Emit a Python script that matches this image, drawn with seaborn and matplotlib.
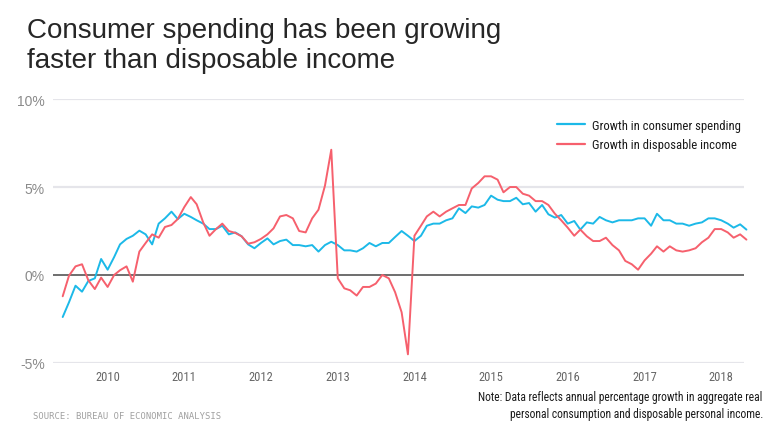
import pandas as pd
import matplotlib
matplotlib.use("Agg")
import matplotlib.pyplot as plt
from matplotlib import font_manager
import seaborn as sns

# Monthly data, June 2009 - May 2018 (annual % growth)
start_month = '2009-06-01'
n_months = 108

spending = [
    -2.39, -1.55, -0.61, -0.95, -0.34, -0.19, 0.91,               # 2009 Jun-Dec
    0.30, 1.02, 1.74, 2.05, 2.23, 2.52, 2.31, 1.74, 2.92, 3.22, 3.60, 3.18,   # 2010
    3.48, 3.30, 3.11, 2.92, 2.61, 2.61, 2.80, 2.31, 2.42, 2.20, 1.74, 1.52,   # 2011
    1.82, 2.08, 1.74, 1.93, 2.01, 1.70, 1.70, 1.63, 1.70, 1.33, 1.70, 1.89,   # 2012
    1.70, 1.40, 1.40, 1.33, 1.52, 1.82, 1.63, 1.82, 1.82, 2.16, 2.50, 2.23,   # 2013
    1.93, 2.23, 2.80, 2.92, 2.92, 3.11, 3.22, 3.79, 3.52, 3.90, 3.83, 3.98,   # 2014
    4.51, 4.28, 4.20, 4.20, 4.39, 4.02, 4.09, 3.60, 3.98, 3.45, 3.26, 3.41,   # 2015
    2.92, 3.07, 2.58, 2.99, 2.92, 3.30, 3.11, 2.99, 3.11, 3.11, 3.11, 3.22,   # 2016
    3.22, 2.80, 3.48, 3.11, 3.11, 2.92, 2.92, 2.80, 2.92, 2.99, 3.22, 3.22,   # 2017
    3.11, 2.92, 2.69, 2.88, 2.58,                                 # 2018 Jan-May
]

income = [
    -1.21, -0.04, 0.49, 0.61, -0.30, -0.80, -0.15,                # 2009 Jun-Dec
    -0.68, 0.00, 0.27, 0.49, -0.38, 1.33, 1.82, 2.31, 2.12, 2.73, 2.84, 3.18,  # 2010
    3.86, 4.43, 4.02, 2.99, 2.23, 2.61, 2.92, 2.50, 2.39, 2.20, 1.78, 1.86,    # 2011
    2.05, 2.31, 2.65, 3.33, 3.41, 3.22, 2.50, 2.42, 3.22, 3.71, 5.08, 7.12,    # 2012
    -0.19, -0.76, -0.87, -1.17, -0.68, -0.68, -0.49, 0.00, -0.19, -0.98, -2.12, -4.51,  # 2013
    2.23, 2.80, 3.33, 3.60, 3.33, 3.60, 3.79, 3.98, 3.98, 4.92, 5.23, 5.61,    # 2014
    5.61, 5.42, 4.70, 5.00, 5.00, 4.62, 4.51, 4.20, 4.20, 3.98, 3.48, 3.11,    # 2015
    2.69, 2.23, 2.58, 2.20, 1.93, 1.93, 2.12, 1.70, 1.40, 0.80, 0.61, 0.30,    # 2016
    0.83, 1.21, 1.63, 1.33, 1.63, 1.40, 1.33, 1.40, 1.52, 1.86, 2.12, 2.61,    # 2017
    2.61, 2.42, 2.12, 2.31, 2.01,                                 # 2018 Jan-May
]

series_names = ['Growth in consumer spending', 'Growth in disposable income']
series_colors = ['#1cb9e8', '#f6606d']
year_ticks = list(range(2010, 2019))
y_ticks = [-5, 0, 5, 10]
y_tick_labels = ['-5%', '0%', '5%', '10%']

title = 'Consumer spending has been growing\nfaster than disposable income'
source = 'SOURCE: BUREAU OF ECONOMIC ANALYSIS'
note = ('Note: Data reflects annual percentage growth in aggregate real\n'
        'personal consumption and disposable personal income.')


def pick_font(candidates):
    installed = {f.name for f in font_manager.fontManager.ttflist}
    for c in candidates:
        if c in installed:
            return c
    return 'DejaVu Sans'


def create_plot():
    dates = pd.date_range(start_month, periods=n_months, freq='MS')
    df = pd.concat([
        pd.DataFrame({'Date': dates, 'Growth': spending, 'Series': series_names[0]}),
        pd.DataFrame({'Date': dates, 'Growth': income, 'Series': series_names[1]}),
    ])

    sns.set_theme(style='white')
    main_font = pick_font(['Liberation Sans', 'Arial'])
    narrow_font = pick_font(['Liberation Sans Narrow', 'Roboto Condensed', 'Roboto'])
    plt.rcParams['font.family'] = [main_font, 'DejaVu Sans']

    fig = plt.figure(figsize=(7.8, 4.39), dpi=100)
    ax = fig.add_axes([0.068, 0.171, 0.886, 0.601])

    # grid lines
    for v in [-5, 5, 10]:
        ax.axhline(v, color='#e5e5ea', lw=1.6, zorder=0)
    ax.axhline(0, color='#555555', lw=1.2, zorder=1)

    sns.lineplot(data=df, x='Date', y='Growth', hue='Series',
                 palette=dict(zip(series_names, series_colors)),
                 linewidth=1.4, ax=ax, legend=False, clip_on=False, zorder=3)

    ax.set_ylim(-5, 10)
    ax.set_xlim(pd.Timestamp('2009-04-16'), pd.Timestamp('2018-04-20'))
    ax.set_yticks(y_ticks)
    ax.set_yticklabels(y_tick_labels, color='#8a8a8a', fontsize=10)
    ax.set_xticks([pd.Timestamp(f'{y}-01-01') for y in year_ticks])
    ax.set_xticklabels([str(y) for y in year_ticks], color='#666666',
                       fontsize=9, family=narrow_font)
    ax.tick_params(axis='both', length=0, pad=5)
    ax.tick_params(axis='y', pad=6)
    ax.set_xlabel('')
    ax.set_ylabel('')
    for s in ax.spines.values():
        s.set_visible(False)
    ax.patch.set_alpha(0)

    # legend
    handles = [plt.Line2D([], [], color=c, lw=1.6) for c in series_colors]
    leg = ax.legend(handles, series_names, loc='upper right',
                    bbox_to_anchor=(1.012, 0.968), frameon=False,
                    handlelength=2.2, handletextpad=0.55, labelspacing=0.5,
                    prop={'family': narrow_font, 'size': 9.1})
    for t in leg.get_texts():
        t.set_color('#1a1a1a')

    fig.text(0.035, 0.958, title, va='top', ha='left', fontsize=20,
             color='#262626', linespacing=1.18)
    fig.text(0.042, 0.052, source, va='center', ha='left', fontsize=6.4,
             color='#a0a0a0', family='DejaVu Sans Mono')
    fig.text(0.978, 0.075, note, va='center', ha='right', fontsize=8.3,
             color='#1a1a1a', family=narrow_font, linespacing=1.35,
             multialignment='right')

    fig.savefig('out.png', dpi=100)
    plt.close(fig)


if __name__ == '__main__':
    create_plot()
